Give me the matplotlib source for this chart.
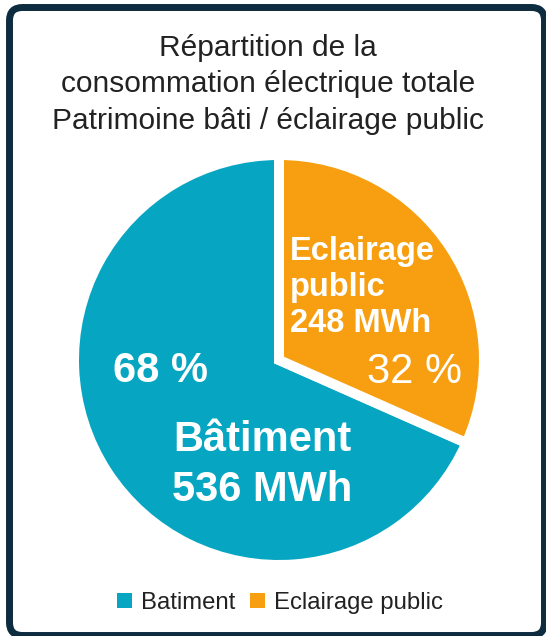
import matplotlib
matplotlib.use("Agg")
import matplotlib.pyplot as plt
from matplotlib.patches import FancyBboxPatch, Patch

plt.rcParams['font.family'] = ['Liberation Sans', 'DejaVu Sans']

# ---- data ----
categories = ['Batiment', 'Eclairage public']
values = [536, 248]          # MWh
colors = ['#06A6C2', '#F79F10']
title = "Répartition de la\nconsommation électrique totale\nPatrimoine bâti / éclairage public"
label_names = ['Bâtiment', 'Eclairage\npublic']
unit = 'MWh'

W, H = 546, 636
fig = plt.figure(figsize=(W / 100, H / 100), dpi=100)
fig.patch.set_facecolor('white')

# rounded border
border = FancyBboxPatch((0.095, 0.005), 5.445 - 0.095, 6.285 - 0.005,
                        boxstyle='round,pad=0,rounding_size=0.13',
                        transform=fig.dpi_scale_trans,
                        facecolor='white', edgecolor='#0E2C3F', linewidth=5.0,
                        zorder=0)
fig.add_artist(border)

# title
fig.text(268 / W, 1 - 33.5 / H, title, ha='center', va='top',
         fontsize=21.5, linespacing=1.4, color='#222222')

# pie
R = 205
cx, cy = 279, 360
ax = fig.add_axes([(cx - R) / W, (H - cy - R) / H, 2 * R / W, 2 * R / H])
ax.pie(values, colors=colors, startangle=90, counterclock=True, radius=1,
       wedgeprops=dict(edgecolor='white', linewidth=7.2))
ax.set_xlim(-1, 1)
ax.set_ylim(-1, 1)
ax.set_axis_off()

total = sum(values)
pcts = [round(v / total * 100) for v in values]

# Batiment labels
ax.text(-0.58, -0.055, f"{pcts[0]} %", ha='center', va='center', color='white',
        fontsize=30, fontweight='bold')
ax.text(-0.08, -0.51, f"{label_names[0]}\n{values[0]} {unit}", ha='center', va='center',
        color='white', fontsize=30, fontweight='bold', linespacing=1.32)

# Eclairage labels
ax.text(0.054, 0.354, f"{label_names[1]}\n{values[1]} {unit}", ha='left', va='center',
        color='white', fontsize=23.5, fontweight='bold', linespacing=1.2)
ax.text(0.663, -0.06, f"{pcts[1]} %", ha='center', va='center', color='white',
        fontsize=30)

# legend
handles = [Patch(facecolor=c, edgecolor='none') for c in colors]
fig.legend(handles, categories, loc='center', bbox_to_anchor=(280 / W, 1 - 603 / H),
           ncol=2, frameon=False, fontsize=17.2, handlelength=0.62, handleheight=0.62,
           handletextpad=0.4, columnspacing=0.6, labelcolor='#222222')

fig.savefig('out.png', dpi=100, facecolor='white')
